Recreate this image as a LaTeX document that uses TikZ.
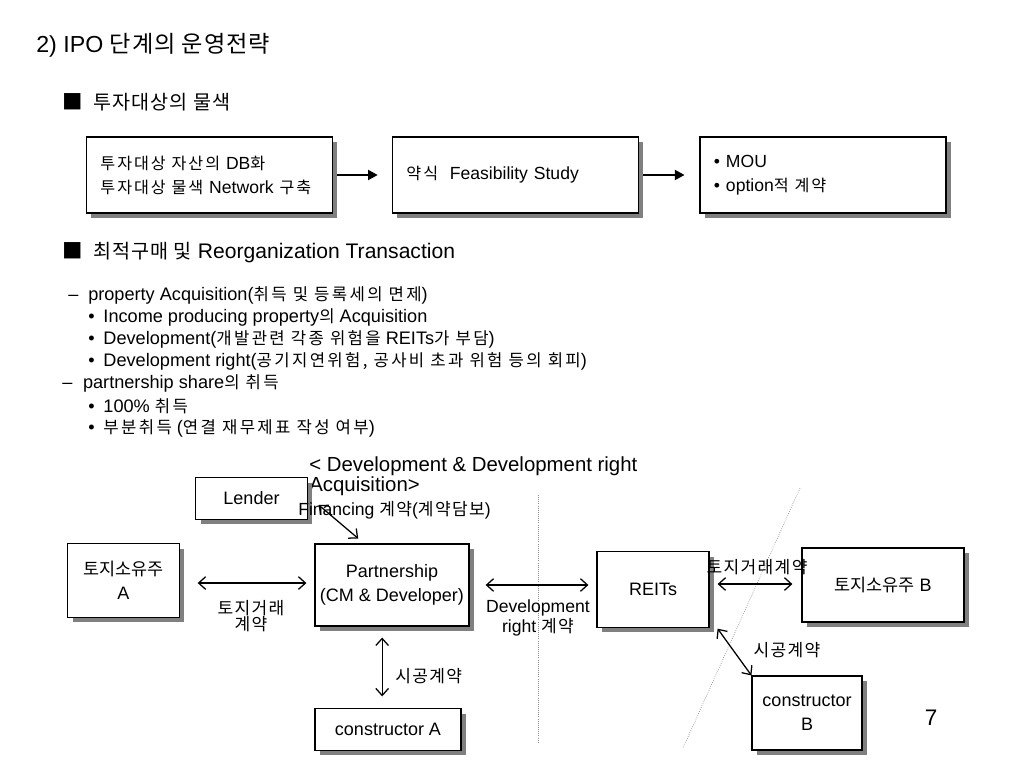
\documentclass[tikz,border=0pt]{standalone}
\usepackage{fontspec}
\setmainfont{Liberation Sans}
\newfontfamily\krplain{Noto Sans CJK KR}[Scale=0.97]
\newfontfamily\krtitle{Noto Sans CJK KR}[LetterSpace=4]
\newfontfamily\krhead{Noto Sans CJK KR}[Scale=0.93,LetterSpace=5]
\newfontfamily\krtag{Noto Sans CJK KR}[Scale=0.97,LetterSpace=8]
\newfontfamily\krbox{Noto Sans CJK KR}[Scale=0.92,LetterSpace=12]
\newfontfamily\krwide{Noto Sans CJK KR}[Scale=0.92,LetterSpace=14]
\usetikzlibrary{arrows.meta,shadows}
\let\krsel\krplain
\newcommand\kr[1]{{\krsel#1}}

\begin{document}
\begin{tikzpicture}[x=0.025cm,y=-0.025cm,
  box/.style={draw,line width=0.8pt,fill=white,align=center,
    drop shadow={shadow xshift=3.5pt,shadow yshift=-3.5pt,fill=black!50,opacity=1},
    font=\fontsize{12.8}{17}\selectfont},
  stage/.style={box,minimum height=1.9cm,text width=5.45cm,inner xsep=0.35cm,align=left,
    font=\fontsize{12.5}{17}\selectfont\let\krsel\krbox},
  pass/.style={-{Triangle[length=7pt,width=7pt]},line width=2pt},
  deal/.style={{Straight Barb[length=5pt,width=9pt]}-{Straight Barb[length=5pt,width=9pt]},line width=0.9pt},
  txt/.style={font=\fontsize{12.9}{14}\selectfont\let\krsel\krwide,inner sep=0pt,anchor=west},
  note/.style={font=\fontsize{12.5}{14}\selectfont\let\krsel\krtag,inner sep=0pt,anchor=west},
  tag/.style={font=\fontsize{12.5}{11.5}\selectfont\let\krsel\krtag,inner sep=0pt,align=center},
  head/.style={font=\fontsize{15}{16}\selectfont\let\krsel\krhead,inner sep=0pt,anchor=west},
  sep/.style={black!45,densely dotted,line width=0.5pt}]

\useasboundingbox (0,0) rectangle (1024,768);

% headings
\node[inner sep=0pt,anchor=west,font=\fontsize{16.5}{18}\selectfont\let\krsel\krtitle] (title) at (36,45) {2) IPO \kr{단계의 운영전략}};
\node[head] (find) at (62,102) {\makebox[0.78cm][l]{\krplain■}\kr{투자대상의 물색}};

% stages
\node[stage] (db) at (209.5,175) {\kr{투자대상 자산의} DB\kr{화}\\\kr{투자대상 물색} Network \kr{구축}};
\node[stage] (fs) at (515.5,175) {\kr{약식}\ \ Feasibility Study};
\node[stage] (mou) at (823,175) {•\ MOU\\•\ option\kr{적 계약}};
\draw[pass,shorten <=3pt,shorten >=10pt] (db) -- (fs);
\draw[pass,shorten <=3pt,shorten >=10.5pt] (fs) -- (mou);

\node[head] (opt) at (62,253) {\makebox[0.78cm][l]{\krplain■}\kr{최적구매 및} Reorganization Transaction};

% list
\node[txt] (acq) at (68,295) {\makebox[0.5cm][l]{–}property Acquisition(\kr{취득 및 등록세의 면제})};
\node[txt] (inc) at (88,317) {\makebox[0.38cm][l]{•}Income producing property\kr{의} Acquisition};
\node[txt] (dev) at (88,339) {\makebox[0.38cm][l]{•}Development(\kr{개발관련 각종 위험을} REITs\kr{가 부담})};
\node[txt] (devr) at (88,361) {\makebox[0.38cm][l]{•}Development right(\kr{공기지연위험, 공사비 초과 위험 등의 회피})};
\node[txt] (share) at (62,383) {\makebox[0.52cm][l]{–}partnership share\kr{의 취득}};
\node[txt] (full) at (88,406) {\makebox[0.38cm][l]{•}100\% \kr{취득}};
\node[txt] (part) at (88,428) {\makebox[0.38cm][l]{•}\kr{부분취득} (\kr{연결 재무제표 작성 여부})};

% separators
\draw[sep] (538,495) -- (538,743);
\draw[sep] (800,488) -- (683,748);

% development diagram
\node[inner sep=0pt,anchor=west,align=left,font=\fontsize{14.5}{14.2}\selectfont] (dtitle) at (309,476) {< Development \& Development right\\Acquisition>};
\node[box,minimum width=2.78cm,minimum height=1.03cm] (lender) at (251.5,498.5) {Lender};
\node[note] (fin) at (298,510) {Financing \kr{계약}(\kr{계약담보})};
\node[box,minimum width=2.78cm,minimum height=1.83cm] (landA) at (123.5,580.5) {\kr{토지소유주}\\A};
\node[box,minimum width=3.85cm,minimum height=2.05cm] (partner) at (392,585) {Partnership\\(CM \& Developer)};
\node[box,minimum width=2.8cm,minimum height=1.88cm] (reits) at (653,589.5) {REITs};
\node[box,minimum width=4.05cm,minimum height=1.85cm] (landB) at (883,585) {\kr{토지소유주} B};
\node[box,minimum width=3.65cm,minimum height=1.03cm] (consA) at (388,729.5) {constructor A};
\node[box,minimum width=2.75cm,minimum height=1.85cm] (consB) at (807,713) {constructor\\B};

\draw[deal] ([xshift=7.8pt,yshift=-4.6pt]lender.east) -- ([xshift=-24pt,yshift=3.5pt]partner.north);
\draw[deal,shorten <=12.8pt,shorten >=5.7pt] ([yshift=-1.8pt]landA.east) -- ([yshift=-1.8pt]landA.east -| partner.west);
\node[tag] (landAdeal) at (251,616) {\kr{토지거래}\\\kr{계약}};
\draw[deal,shorten <=11.4pt,shorten >=5.7pt] (partner.east) -- (partner.east -| reits.west);
\node[tag] (devdeal) at (538,618) {Development\\right \kr{계약}};
\draw[deal,shorten <=5.7pt,shorten >=6.4pt] ([yshift=3.9pt]reits.east) -- ([yshift=3.9pt]reits.east -| landB.west);
\node[tag] (landBdeal) at (757,567) {\kr{토지거래계약}};
\draw[deal] ([xshift=-7pt,yshift=-7.8pt]partner.south) -- ([xshift=-7pt,yshift=8.5pt]partner.south |- consA.north);
\node[note] (buildA) at (395,676) {\kr{시공계약}};
\draw[deal] ([xshift=5.7pt,yshift=-0.7pt]reits.south east) -- (consB.north west);
\node[tag] (buildB) at (787,650) {\kr{시공계약}};

\node[inner sep=0pt,font=\fontsize{16}{18}\selectfont] (page) at (931,718) {7};
\end{tikzpicture}
\end{document}
